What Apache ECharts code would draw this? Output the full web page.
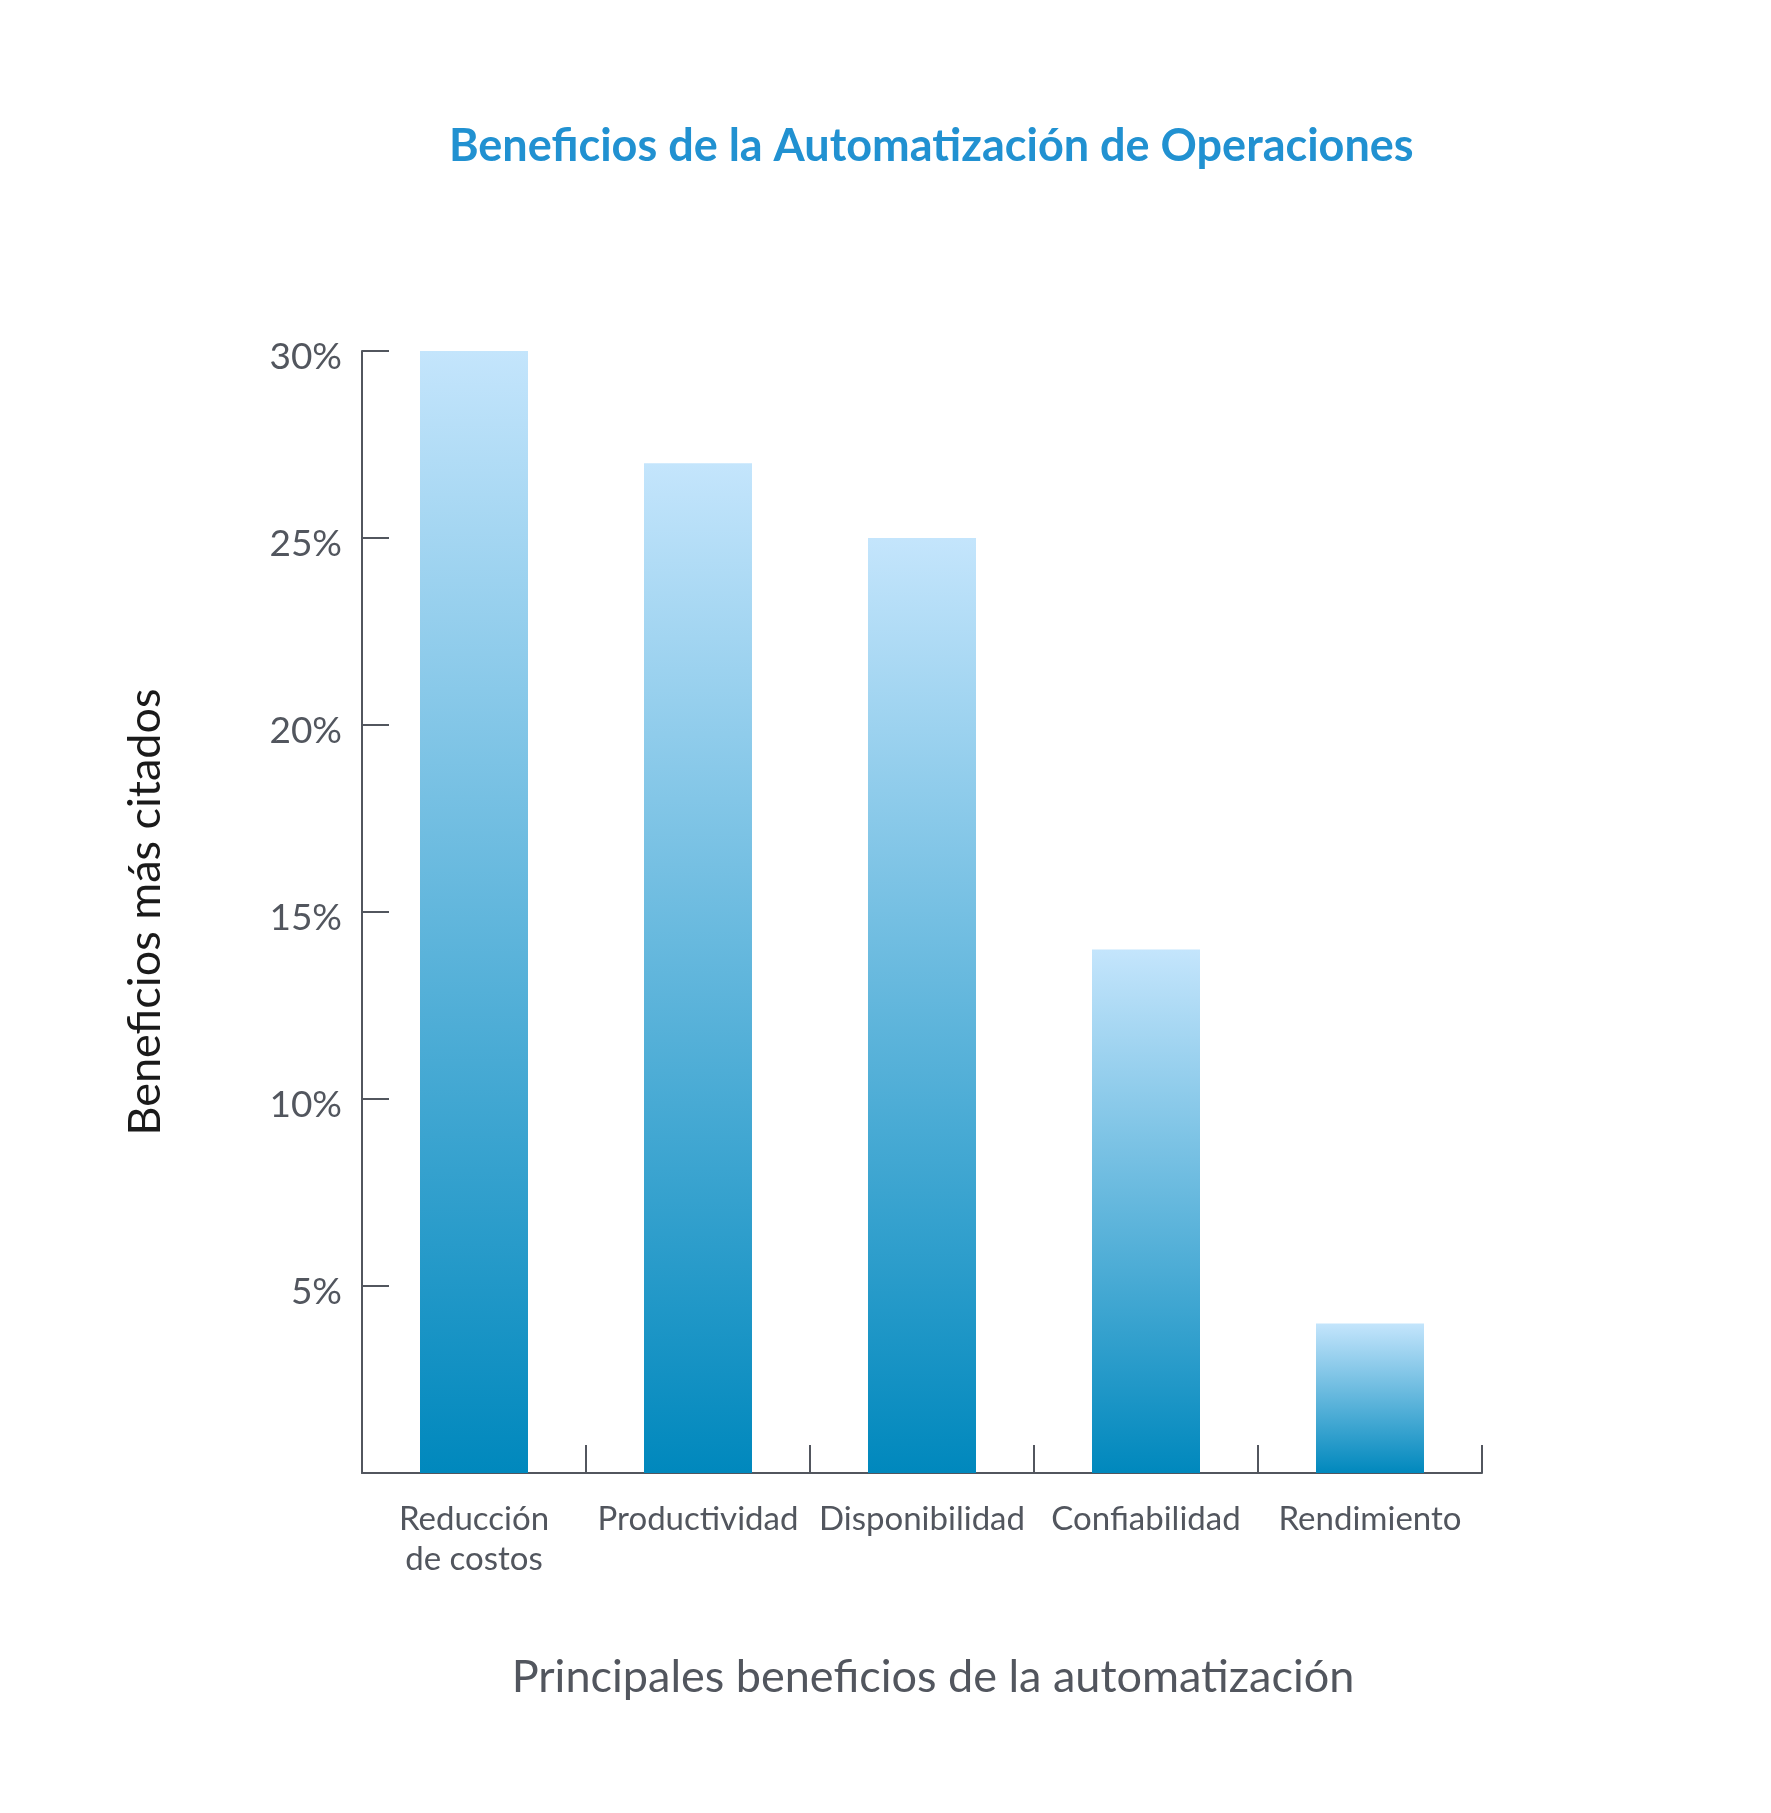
<!DOCTYPE html>
<html>
<head>
<meta charset="utf-8">
<script src="https://cdn.jsdelivr.net/npm/echarts@6/dist/echarts.min.js"></script>
<style>
  html, body { margin: 0; padding: 0; background: #fff; }
  #chart { width: 1771px; height: 1813px; }
</style>
</head>
<body>
<div id="chart"></div>
<script>
  const categories = ['Reducción\nde costos', 'Productividad', 'Disponibilidad', 'Confiabilidad', 'Rendimiento'];
  const values = [30, 27, 25, 14, 4];
  const yTicks = { min: 0, max: 30, step: 5 };

  const gray = '#52565e';
  const chart = echarts.init(document.getElementById('chart'));

  chart.setOption({
    backgroundColor: '#fff',
    textStyle: { fontFamily: 'Lato' },
    title: {
      text: 'Beneficios de la Automatización de Operaciones',
      left: 444,
      top: 119,
      textStyle: { fontFamily: 'Lato', fontWeight: 'bold', fontSize: 45, color: '#2191d1' }
    },
    grid: { left: 362, right: 289, top: 351, bottom: 340 },
    xAxis: {
      type: 'category',
      data: categories,
      name: 'Principales beneficios de la automatización',
      nameLocation: 'middle',
      nameGap: 182,
      nameTextStyle: { fontFamily: 'Lato', fontSize: 45, color: gray, padding: [0, 0, 0, 22] },
      axisLine: { show: true, lineStyle: { color: gray, width: 2 } },
      axisTick: { show: true, inside: true, length: 28, interval: 0, alignWithLabel: false, lineStyle: { color: gray, width: 2 } },
      axisLabel: { interval: 0, margin: 26, fontFamily: 'Lato', fontSize: 33, lineHeight: 40, color: gray }
    },
    yAxis: {
      type: 'value',
      min: yTicks.min,
      max: yTicks.max,
      interval: yTicks.step,
      name: 'Beneficios más citados',
      nameLocation: 'middle',
      nameRotate: 90,
      nameGap: 194,
      nameTextStyle: { fontFamily: 'Lato', fontSize: 45, color: '#1a1a1a' },
      axisLine: { show: true, lineStyle: { color: gray, width: 2 } },
      axisTick: { show: true, inside: true, length: 27, lineStyle: { color: gray, width: 2 } },
      splitLine: { show: false },
      axisLabel: {
        margin: 20,
        formatter: (v)=> v === 0 ? '' : '{t|' + v + '%}',
        rich: {
          t: { fontFamily: 'Lato', fontSize: 37, color: gray, padding: [12, 0, 0, 0] }
        }
      }
    },
    series: [{
      type: 'bar',
      data: values,
      barWidth: 108,
      itemStyle: {
        color: new echarts.graphic.LinearGradient(0, 0, 0, 1, [
          { offset: 0, color: '#c4e5fc' },
          { offset: 1, color: '#0088bd' }
        ])
      }
    }]
  });
</script>
</body>
</html>
